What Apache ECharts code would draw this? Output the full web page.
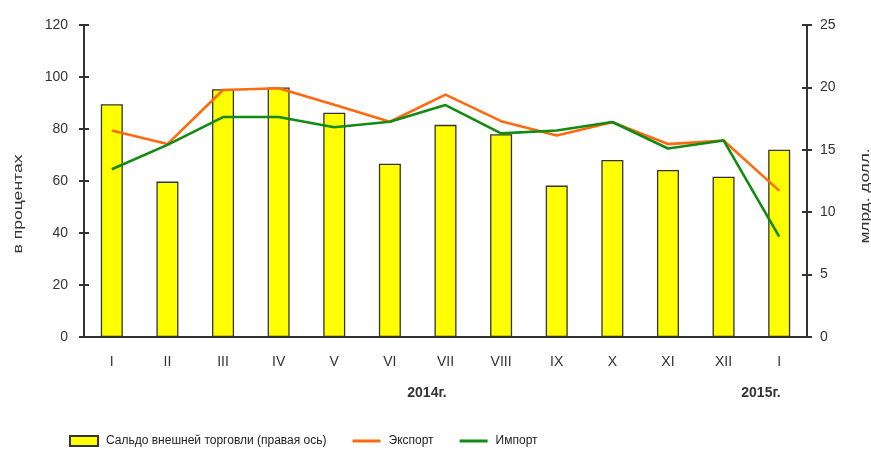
<!DOCTYPE html>
<html>
<head>
<meta charset="utf-8">
<script src="https://cdn.jsdelivr.net/npm/echarts@6/dist/echarts.min.js"></script>
<style>
  html, body { margin: 0; padding: 0; background: #fff; }
  #chart { width: 871px; height: 451px; }
</style>
</head>
<body>
<div id="chart"></div>
<script>
// Months: Jan 2014 .. Jan 2015
const months = ['I', 'II', 'III', 'IV', 'V', 'VI', 'VII', 'VIII', 'IX', 'X', 'XI', 'XII', 'I'];
// Trade balance, bn USD (right axis)
const balance = [18.65, 12.45, 19.85, 20.0, 17.97, 13.89, 17.0, 16.24, 12.13, 14.18, 13.38, 12.85, 15.0];
// Export and import, percent (left axis)
const exportPct = [79.4, 74.2, 95.0, 95.7, 89.3, 82.8, 93.2, 83.0, 77.5, 82.6, 74.2, 75.6, 56.3];
const importPct = [64.5, 73.9, 84.6, 84.6, 80.7, 82.8, 89.2, 78.3, 79.4, 82.7, 72.5, 75.6, 38.6];
// Left and right axis ticks
const leftTicks = { min: 0, max: 120, interval: 20 };
const rightTicks = { min: 0, max: 25, interval: 5 };
const yearLabels = ['2014г.', '2015г.'];

const FONT = '"Liberation Sans", Arial, sans-serif';
const AX = '#333';
// thin horizontal bar used as the legend mark of the line series
const LINE_ICON = 'path://M0,0h28v3h-28z';

const chart = echarts.init(document.getElementById('chart'));

function valueAxis(pos, t, inside, withLabels, margin) {
  return {
    type: 'value',
    position: pos,
    min: t.min, max: t.max, interval: t.interval,
    splitLine: { show: false },
    axisLine: { show: withLabels, lineStyle: { color: AX, width: 2 } },
    axisTick: { show: true, inside: inside, length: 5, lineStyle: { color: AX, width: 2 } },
    axisLabel: {
      show: withLabels, margin: margin, color: '#333',
      fontFamily: FONT, fontSize: 14
    }
  };
}

chart.setOption({
  animation: false,
  textStyle: { fontFamily: FONT },
  grid: { left: 84, right: 64, top: 25, bottom: 114, containLabel: false },
  xAxis: {
    type: 'category',
    data: months,
    axisLine: { lineStyle: { color: AX, width: 2 } },
    axisTick: { show: false },
    axisLabel: { margin: 18, color: '#333', fontFamily: FONT, fontSize: 14 }
  },
  yAxis: [
    valueAxis('left', leftTicks, false, true, 16),
    valueAxis('right', rightTicks, false, true, 13),
    valueAxis('left', leftTicks, true, false, 0),
    valueAxis('right', rightTicks, true, false, 0)
  ],
  legend: {
    left: 69, top: 435, padding: 0,
    itemWidth: 28, itemHeight: 10, itemGap: 26,
    textStyle: { color: '#222', fontFamily: FONT, fontSize: 12, padding: [0, 0, 0, 3] },
    data: [
      { name: 'Сальдо внешней торговли (правая ось)', icon: 'rect' },
      { name: 'Экспорт', icon: LINE_ICON },
      { name: 'Импорт', icon: LINE_ICON }
    ]
  },
  series: [
    {
      name: 'Сальдо внешней торговли (правая ось)',
      type: 'bar',
      yAxisIndex: 1,
      barWidth: 22,
      data: balance,
      itemStyle: { color: '#ffff00', borderColor: '#333', borderWidth: 1.3 }
    },
    {
      name: 'Экспорт',
      type: 'line',
      yAxisIndex: 0,
      data: exportPct,
      symbol: 'none',
      lineStyle: { color: '#ff6a10', width: 2.6 },
      itemStyle: { color: '#ff6a10' }
    },
    {
      name: 'Импорт',
      type: 'line',
      yAxisIndex: 0,
      data: importPct,
      symbol: 'none',
      lineStyle: { color: '#138a13', width: 2.6 },
      itemStyle: { color: '#138a13' }
    }
  ],
  graphic: [
    {
      type: 'text', x: 18, y: 204, rotation: Math.PI / 2, scaleX: 1.35,
      style: { text: 'в процентах', fill: '#333', font: '13px ' + FONT, align: 'center', verticalAlign: 'middle' }
    },
    {
      type: 'text', x: 865, y: 196, rotation: Math.PI / 2, scaleX: 1.33,
      style: { text: 'млрд. долл.', fill: '#333', font: '13px ' + FONT, align: 'center', verticalAlign: 'middle' }
    },
    {
      type: 'text', x: 427, y: 393,
      style: { text: yearLabels[0], fill: '#333', font: 'bold 14px ' + FONT, align: 'center', verticalAlign: 'middle' }
    },
    {
      type: 'text', x: 761, y: 393,
      style: { text: yearLabels[1], fill: '#333', font: 'bold 14px ' + FONT, align: 'center', verticalAlign: 'middle' }
    }
  ]
});
</script>
</body>
</html>
